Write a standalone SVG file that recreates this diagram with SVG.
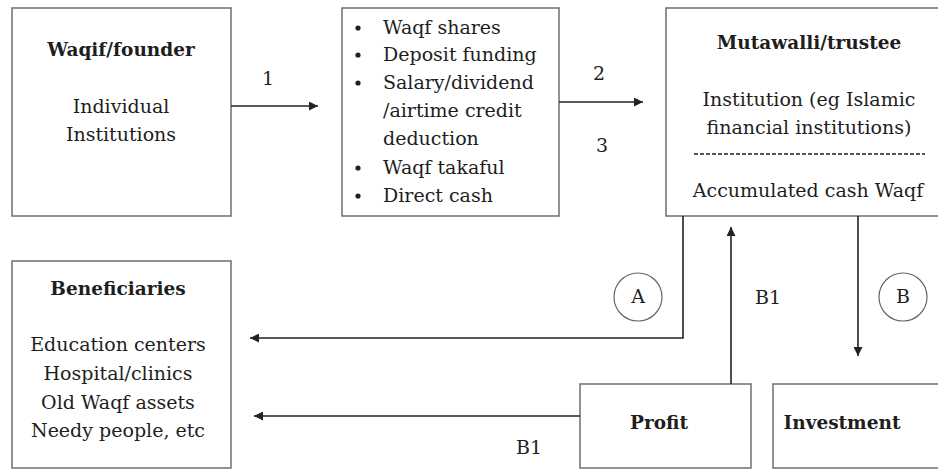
<svg xmlns="http://www.w3.org/2000/svg" width="938" height="470" viewBox="0 0 938 470">
<defs>
<style>
.box{fill:#fff;stroke:#777;stroke-width:1.6}
.t{font-family:"DejaVu Serif","Liberation Serif",serif;font-size:19px;fill:#1e1e1e;text-anchor:middle}
.b{font-weight:bold;font-size:18.5px}
.l{text-anchor:start}
.c{stroke:#222;stroke-width:1.6;fill:none}
.circ{fill:#fff;stroke:#666;stroke-width:1.2}
</style>
<marker id="ah" viewBox="0 0 10 10" refX="10" refY="5" markerWidth="11" markerHeight="9" markerUnits="userSpaceOnUse" orient="auto">
<path d="M0,0 L10,5 L0,10 z" fill="#222"/>
</marker>
</defs>
<rect width="938" height="470" fill="#fff"/>
<g id="waqif">
<rect class="box" x="12" y="8" width="219" height="208"/>
<text class="t b" x="121" y="56">Waqif/founder</text>
<text class="t" x="121" y="113">Individual</text>
<text class="t" x="121" y="141">Institutions</text>
</g>
<g id="methods">
<rect class="box" x="342" y="8" width="217" height="208"/>
<circle cx="358" cy="28" r="2.6" fill="#222"/><text class="t l" x="383" y="34">Waqf shares</text>
<circle cx="358" cy="55" r="2.6" fill="#222"/><text class="t l" x="383" y="61">Deposit funding</text>
<circle cx="358" cy="83" r="2.6" fill="#222"/><text class="t l" x="383" y="89">Salary/dividend</text>
<text class="t l" x="383" y="117">/airtime credit</text>
<text class="t l" x="383" y="145">deduction</text>
<circle cx="358" cy="168" r="2.6" fill="#222"/><text class="t l" x="383" y="174">Waqf takaful</text>
<circle cx="358" cy="196" r="2.6" fill="#222"/><text class="t l" x="383" y="202">Direct cash</text>
</g>
<g id="mutawalli">
<rect class="box" x="666" y="8" width="290" height="208"/>
<text class="t b" x="809" y="49">Mutawalli/trustee</text>
<text class="t" x="809" y="106">Institution (eg Islamic</text>
<text class="t" x="809" y="134">financial institutions)</text>
<line x1="694" y1="154" x2="925" y2="154" stroke="#222" stroke-width="1.3" stroke-dasharray="4,2"/>
<text class="t" x="808" y="197">Accumulated cash Waqf</text>
</g>
<g id="beneficiaries">
<rect class="box" x="12" y="261" width="219" height="207"/>
<text class="t b" x="118" y="295">Beneficiaries</text>
<text class="t" x="118" y="351">Education centers</text>
<text class="t" x="118" y="380">Hospital/clinics</text>
<text class="t" x="118" y="409">Old Waqf assets</text>
<text class="t" x="118" y="437">Needy people, etc</text>
</g>
<g id="profit">
<rect class="box" x="580" y="384" width="171" height="84"/>
<text class="t b" x="659" y="429">Profit</text>
</g>
<g id="investment">
<rect class="box" x="773" y="384" width="180" height="84"/>
<text class="t b" x="842" y="429">Investment</text>
</g>
<g id="connectors">
<line class="c" x1="231" y1="106" x2="318" y2="106" marker-end="url(#ah)"/>
<line class="c" x1="559" y1="102" x2="643" y2="102" marker-end="url(#ah)"/>
<polyline class="c" points="683,216 683,338 250,338" marker-end="url(#ah)"/>
<line class="c" x1="580" y1="416" x2="254" y2="416" marker-end="url(#ah)"/>
<line class="c" x1="731" y1="384" x2="731" y2="227" marker-end="url(#ah)"/>
<line class="c" x1="858" y1="216" x2="858" y2="356" marker-end="url(#ah)"/>
</g>
<g id="labels">
<text class="t" x="268" y="85">1</text>
<text class="t" x="599" y="80">2</text>
<text class="t" x="602" y="152">3</text>
<circle class="circ" cx="638" cy="297" r="24"/>
<text class="t" x="638" y="303">A</text>
<circle class="circ" cx="903" cy="297" r="24"/>
<text class="t" x="903" y="303">B</text>
<text class="t" x="768" y="304">B1</text>
<text class="t" x="529" y="454">B1</text>
</g>
</svg>
